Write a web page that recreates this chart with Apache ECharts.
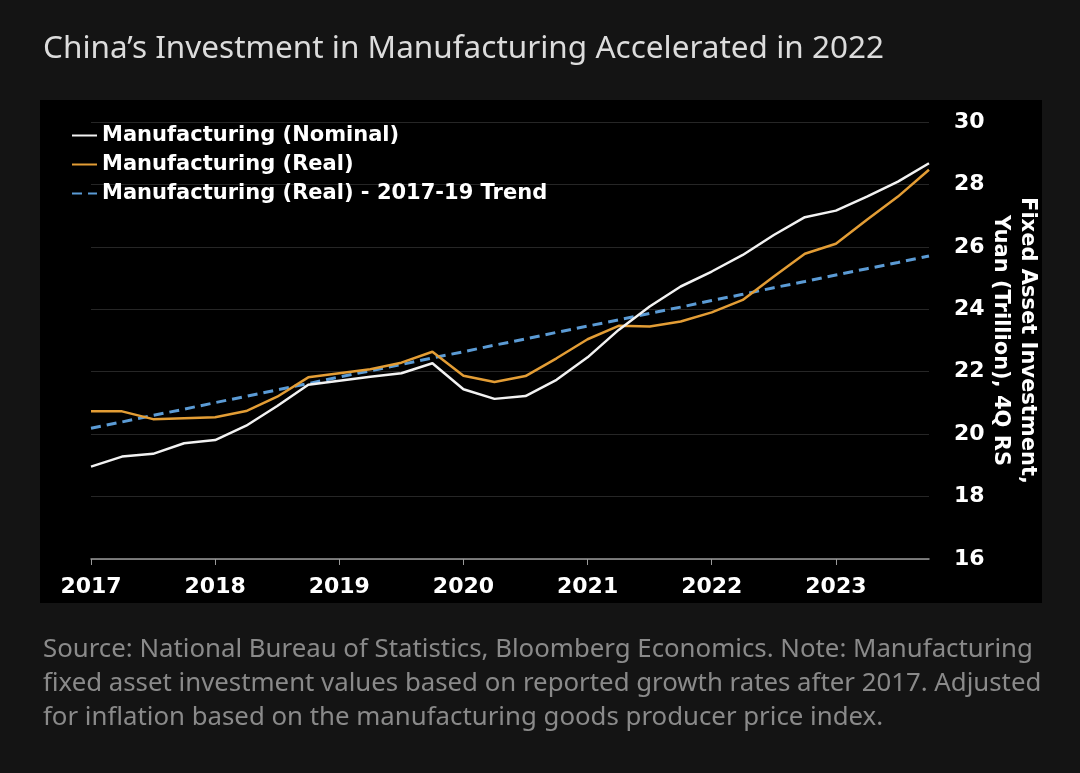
<!DOCTYPE html>
<html>
<head>
<meta charset="utf-8">
<script src="https://cdn.jsdelivr.net/npm/echarts@6/dist/echarts.min.js"></script>
<style>
html,body{margin:0;padding:0;background:#141414;}
#chart{width:1080px;height:773px;}
</style>
</head>
<body>
<div id="chart"></div>
<script>
// Quarterly positions (2017Q1 .. 2023Q4)
const quarters = [
  2017.00, 2017.25, 2017.50, 2017.75,
  2018.00, 2018.25, 2018.50, 2018.75,
  2019.00, 2019.25, 2019.50, 2019.75,
  2020.00, 2020.25, 2020.50, 2020.75,
  2021.00, 2021.25, 2021.50, 2021.75,
  2022.00, 2022.25, 2022.50, 2022.75,
  2023.00, 2023.25, 2023.50, 2023.75
];
const nominal = [
  18.96, 19.28, 19.37, 19.71,
  19.81, 20.27, 20.90, 21.58,
  21.71, 21.84, 21.95, 22.27,
  21.44, 21.13, 21.22, 21.74,
  22.46, 23.34, 24.09, 24.73,
  25.21, 25.74, 26.38, 26.95,
  27.16, 27.61, 28.09, 28.68
];
const real = [
  20.73, 20.73, 20.48, 20.51,
  20.54, 20.74, 21.20, 21.82,
  21.95, 22.08, 22.29, 22.64,
  21.87, 21.67, 21.86, 22.43,
  23.04, 23.47, 23.45, 23.61,
  23.90, 24.30, 25.05, 25.78,
  26.10, 26.87, 27.61, 28.47
];
const trend = [
  20.19, 20.39, 20.60, 20.80,
  21.01, 21.21, 21.42, 21.62,
  21.83, 22.03, 22.23, 22.44,
  22.64, 22.85, 23.05, 23.26,
  23.46, 23.66, 23.87, 24.07,
  24.28, 24.48, 24.69, 24.89,
  25.10, 25.30, 25.50, 25.71
];
const yearTicks = [2017, 2018, 2019, 2020, 2021, 2022, 2023];
const seriesNames = [
  'Manufacturing (Nominal)',
  'Manufacturing (Real)',
  'Manufacturing (Real) - 2017-19 Trend'
];
const titleText = 'China\u2019s Investment in Manufacturing Accelerated in 2022';
const footnoteText = 'Source: National Bureau of Statistics, Bloomberg Economics. Note: Manufacturing\nfixed asset investment values based on reported growth rates after 2017. Adjusted\nfor inflation based on the manufacturing goods producer price index.';
const yAxisName = 'Fixed Asset Investment,\nYuan (Trillion), 4Q RS';

const pair = (xs, ys) => xs.map((x, i) => [x, ys[i]]);
const boldFont = '"DejaVu Sans", Verdana, sans-serif';

const chart = echarts.init(document.getElementById('chart'));
chart.setOption({
  backgroundColor: '#141414',
  animation: false,
  graphic: [{
    type: 'rect', z: -10,
    shape: { x: 40, y: 100, width: 1002, height: 503 },
    style: { fill: '#000000' }
  }],
  title: [{
    text: titleText,
    left: 38, top: 28,
    textStyle: { color: '#dcdcdc', fontFamily: '"Noto Sans", sans-serif', fontWeight: 'normal', fontSize: 31.5 }
  }, {
    text: footnoteText,
    left: 38, top: 628,
    textStyle: { color: '#8a8a8a', fontFamily: '"Noto Sans", sans-serif', fontWeight: 'normal', fontSize: 25.8, lineHeight: 34 }
  }],
  legend: {
    orient: 'vertical',
    left: 66, top: 120,
    itemWidth: 25, itemHeight: 14, itemGap: 8,
    itemStyle: { opacity: 0 },
    textStyle: { color: '#ffffff', fontFamily: boldFont, fontWeight: 'bold', fontSize: 21, lineHeight: 21 },
    data: seriesNames
  },
  grid: { left: 91, right: 151, top: 122, bottom: 214 },
  xAxis: {
    type: 'value',
    min: 2017, max: 2023.75,
    axisLine: { show: true, lineStyle: { color: '#9a9a9a', width: 1.5 } },
    axisTick: { show: true, length: 6, lineStyle: { color: '#9a9a9a' }, customValues: yearTicks },
    axisLabel: {
      color: '#ffffff', fontFamily: boldFont, fontWeight: 'bold', fontSize: 22, margin: 17,
      customValues: yearTicks,
      formatter: v => String(v)
    },
    splitLine: { show: false }
  },
  yAxis: {
    type: 'value',
    position: 'right',
    min: 16, max: 30, interval: 2,
    name: yAxisName,
    nameLocation: 'middle',
    nameRotate: -90,
    nameGap: 85,
    nameMoveOverlap: false,
    nameTextStyle: { color: '#ffffff', fontFamily: boldFont, fontWeight: 'bold', fontSize: 21, lineHeight: 27, align: 'center', verticalAlign: 'middle' },
    axisLine: { show: false },
    axisTick: { show: false },
    axisLabel: { color: '#ffffff', fontFamily: boldFont, fontWeight: 'bold', fontSize: 22, margin: 25 },
    splitLine: { show: true, lineStyle: { color: '#262626', width: 1 } }
  },
  series: [{
    name: seriesNames[0], type: 'line', symbol: 'none', z: 4,
    data: pair(quarters, nominal),
    lineStyle: { color: '#f2f2f2', width: 2.5 },
    itemStyle: { color: '#f2f2f2' }
  }, {
    name: seriesNames[1], type: 'line', symbol: 'none', z: 3,
    data: pair(quarters, real),
    lineStyle: { color: '#e39d35', width: 2.5 },
    itemStyle: { color: '#e39d35' }
  }, {
    name: seriesNames[2], type: 'line', symbol: 'none', z: 2,
    data: pair(quarters, trend),
    lineStyle: { color: '#5b9bd5', width: 3, type: [10, 6] },
    itemStyle: { color: '#5b9bd5' }
  }]
});
</script>
</body>
</html>
